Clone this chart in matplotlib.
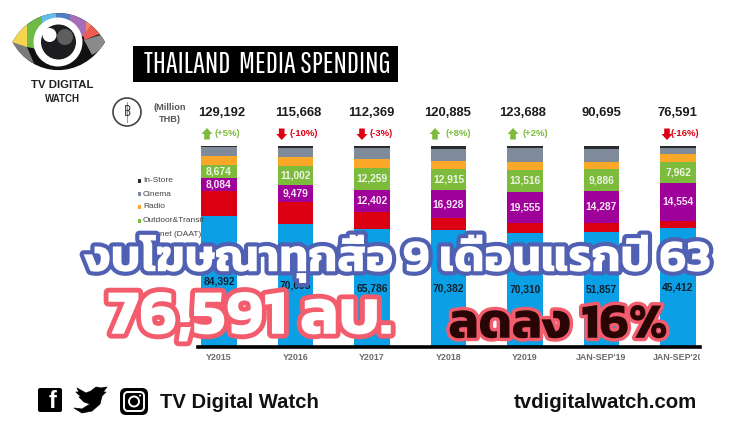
import numpy as np
import matplotlib
matplotlib.use("Agg")
import matplotlib.pyplot as plt
from matplotlib import patheffects as pe
from matplotlib.patches import Rectangle, Circle, Polygon, PathPatch, FancyBboxPatch
from matplotlib.path import Path
from matplotlib.transforms import Bbox

years = ["Y2015", "Y2016", "Y2017", "Y2018", "Y2019", "JAN-SEP'19", "JAN-SEP'20"]
totals = [129192, 115668, 112369, 120885, 123688, 90695, 76591]
changes = ["(+5%)", "(-10%)", "(-3%)", "(+8%)", "(+2%)", "", "(-16%)"]
tv = [84392, 70695, 65786, 70382, 70310, 51857, 45412]
print_media = [16100, 13000, 9860, 7000, 5730, 4200, 2660]
internet = [8084, 9479, 12402, 16928, 19555, 14287, 14554]
outdoor = [8674, 11002, 12259, 12915, 13516, 9886, 7962]
radio = [5800, 5400, 4650, 4600, 4700, 3450, 2790]
cinema = [5500, 5000, 6330, 7400, 8400, 5860, 2530]
instore = [642, 1092, 1082, 1660, 1477, 1155, 683]
legend_names = ["In-Store", "Cinema", "Radio", "Outdoor&Transit", "Internet (DAAT)"]

fig = plt.figure(figsize=(7.5, 4.23), dpi=100, facecolor="white")
W, H = 750, 423

# chart
ax = fig.add_axes([198 / W, 1 - 347 / H, (700 - 198) / W, (347 - 146) / H], zorder=1)
x = np.arange(len(years))
series = [(tv, "#0BA0E6"), (print_media, "#DB0012"), (internet, "#A0009A"), (outdoor, "#7CBB3C"),
          (radio, "#FBA727"), (cinema, "#7F8A9B"), (instore, "#2B2B2E")]
bottom = np.zeros(len(years))
tot = np.array(totals, float)
containers = []
for vals, col in series:
    share = np.array(vals) / tot * 100
    containers.append(ax.bar(x, share, 0.47, bottom=bottom, color=col, linewidth=0))
    bottom += share
for idx, col in [(0, "#10202a"), (2, "#f3e6f2"), (3, "#eef5e4")]:
    labs = [f"{v:,}" for v in series[idx][0]]
    ax.bar_label(containers[idx], labels=labs, label_type="center", color=col,
                 fontsize=7.4, fontweight="bold", family="Liberation Sans")
ax.set_xlim((198 - 219) / 76.5, (700 - 219) / 76.5)
ax.set_ylim(0, 100)
ax.set_yticks([])
ax.set_xticks(x, years, fontsize=6.4, fontweight="bold", color="#6b6b6b", family="Liberation Sans")
ax.tick_params(axis="x", length=0, pad=4.5)
for s in ["top", "left", "right"]:
    ax.spines[s].set_visible(False)
ax.spines["bottom"].set_linewidth(2.6)
ax.spines["bottom"].set_color("black")
clip = Bbox([[0, 0], [700, H]])
for t in ax.get_xticklabels():
    t.set_clip_box(clip)
    t.set_clip_on(True)

# overlay in pixel coordinates
ov = fig.add_axes([0, 0, 1, 1], zorder=2)
ov.set_xlim(0, W)
ov.set_ylim(H, 0)
ov.axis("off")
ov.patch.set_alpha(0)
SANS = "Liberation Sans"

# chart header
total_x = [222, 298.5, 371, 448, 523, 601, 677]
for v, px in zip(totals, total_x):
    ov.text(px, 113.5, f"{v:,}", ha="center", va="center", fontsize=9.4, fontweight="bold",
            color="#1c1c1c", family=SANS)
arrow_x = [207, 281.7, 362, 435, 513, None, 667]
chg_x = [227, 304, 381, 458, 535, None, 685]
for a, c, lab in zip(arrow_x, chg_x, changes):
    if a is None:
        continue
    up = lab.startswith("(+")
    col = "#7CBB3C" if up else "#DB0012"
    d = -1 if up else 1
    ym = 134
    pts = [(a - 2.8, ym - d * 5.5), (a + 2.8, ym - d * 5.5), (a + 2.8, ym), (a + 5.5, ym),
           (a, ym + d * 6), (a - 5.5, ym), (a - 2.8, ym)]
    ov.add_patch(Polygon(pts, closed=True, fc=col, ec="none"))
    ov.text(c, 134, lab, ha="center", va="center", fontsize=6.8, fontweight="bold", color=col, family=SANS)
ov.text(170, 113.5, "(Million\nTHB)", ha="center", va="center", fontsize=6.6, fontweight="bold",
        color="#555555", family=SANS, linespacing=1.35)
ov.add_patch(Circle((127, 112), 14, fc="white", ec="#444444", lw=1.2))
ov.text(127, 112, "B", ha="center", va="center", fontsize=11, color="#333333", family="Barlow Condensed")
ov.plot([127, 127], [102, 122], color="#3a9ad0", lw=0.6)

# legend
leg_y = [181, 194, 207, 221, 234]
leg_cols = ["#2B2B2E", "#7F8A9B", "#FBA727", "#7CBB3C", "#A0009A"]
for y, n, c in zip(leg_y, legend_names, leg_cols):
    ov.add_patch(Rectangle((138, y - 1.7), 3.2, 3.4, fc=c, ec="none"))
    ov.text(143, y, n, ha="left", va="center", fontsize=6.0, color="#444444", family=SANS)

# title banner
ov.add_patch(Rectangle((132.5, 46), 265.5, 36, fc="black", ec="none"))
ov.text(267, 64.5, "THAILAND  MEDIA SPENDING", ha="center", va="center", fontsize=21.5, color="white",
        family="Pathway Gothic One")

# logo
eye = Path([(12.5, 42), (33, 5), (82, 2), (105, 42), (82, 80), (33, 79), (12.5, 42), (12.5, 42)],
           [Path.MOVETO, Path.CURVE4, Path.CURVE4, Path.CURVE4, Path.CURVE4, Path.CURVE4, Path.CURVE4, Path.CLOSEPOLY])
base = PathPatch(eye, fc="#111111", ec="none")
ov.add_patch(base)
bands = [([(5, 42), (27, 5), (27, 47), (12, 47)], "#F5D44E"),
         ([(27, 5), (42, 5), (42, 50), (27, 47)], "#6DBB45"),
         ([(42, 5), (56, 5), (56, 30), (42, 30)], "#62BDE8"),
         ([(56, 5), (70, 5), (70, 30), (56, 30)], "#4F7FC4"),
         ([(70, 5), (86, 5), (86, 38), (70, 30)], "#A76DB8"),
         ([(86, 5), (95, 5), (92, 33), (86, 38)], "#F0866B"),
         ([(92, 24), (105, 32), (84, 40), (84, 34)], "#EE5B52"),
         ([(84, 40), (110, 32), (110, 44), (92, 55)], "#8a8a8a"),
         ([(12, 42), (27, 47), (36, 68), (22, 62)], "#7a7a7a")]
for pts, c in bands:
    p = Polygon(pts, closed=True, fc=c, ec="none")
    ov.add_patch(p)
    p.set_clip_path(base)
ov.add_patch(Circle((58, 42), 24.5, fc="white", ec="none"))
ov.add_patch(Circle((58.5, 42), 17.5, fc="#1d1d1f", ec="none"))
ov.add_patch(Circle((65, 37), 8, fc="#5e5e60", ec="none"))
ov.add_patch(Circle((49.5, 35), 7, fc="white", ec="none"))
ov.text(62, 84.5, "TV DIGITAL", ha="center", va="center", fontsize=8.2, fontweight="bold", color="#222222", family=SANS)
ov.text(62, 98.5, "WATCH", ha="center", va="center", fontsize=7, fontweight="bold", color="#222222", family=SANS)

# big headline
tf = ["Kanit", "DejaVu Sans"]
ov.text(398, 259, "งบโฆษณาทุกสื่อ 9 เดือนแรกปี 63", ha="center", va="center", fontsize=33, fontweight="bold",
        color="white", family=tf, path_effects=[pe.withStroke(linewidth=6, foreground="#5060B2")])
ov.text(250, 319, "76,591 ลบ.", ha="center", va="center", fontsize=46, fontweight="bold",
        color="white", family=tf, path_effects=[pe.withStroke(linewidth=7, foreground="#F25C6C")])
ov.text(558, 326, "ลดลง 16%", ha="center", va="center", fontsize=36, fontweight="bold",
        color="#2A0505", family=tf, path_effects=[pe.withStroke(linewidth=5, foreground="#F25C6C")])

# footer
ov.add_patch(FancyBboxPatch((38, 388), 24, 24, boxstyle="round,pad=0,rounding_size=2", fc="black", ec="none"))
ov.text(52.5, 401, "f", ha="center", va="center", fontsize=17, fontweight="bold", color="white", family=SANS)
bird = [(74, 408), (82, 409), (90, 404), (84, 402), (79, 397), (81, 397), (76, 392), (79, 392), (77, 388),
        (86, 393), (91, 391), (96, 387), (101, 388), (107, 387), (103, 392), (106, 392), (102, 396),
        (100, 404), (92, 411), (82, 413)]
ov.add_patch(Polygon(bird, closed=True, fc="black", ec="black", lw=0.5, joinstyle="round"))
ov.add_patch(FancyBboxPatch((120, 388), 28, 27, boxstyle="round,pad=0,rounding_size=6", fc="black", ec="none"))
ov.add_patch(FancyBboxPatch((124, 392), 20, 19, boxstyle="round,pad=0,rounding_size=4", fc="none", ec="white", lw=1.4))
ov.add_patch(Circle((134, 401.5), 5, fc="none", ec="white", lw=1.4))
ov.add_patch(Circle((140, 395.5), 1, fc="white", ec="none"))
ov.text(160, 402, "TV Digital Watch", ha="left", va="center", fontsize=14.6, fontweight="bold", color="#111111", family=SANS)
ov.text(697, 402, "tvdigitalwatch.com", ha="right", va="center", fontsize=14.7, fontweight="bold", color="#111111", family=SANS)

fig.savefig("out.png", dpi=100)
